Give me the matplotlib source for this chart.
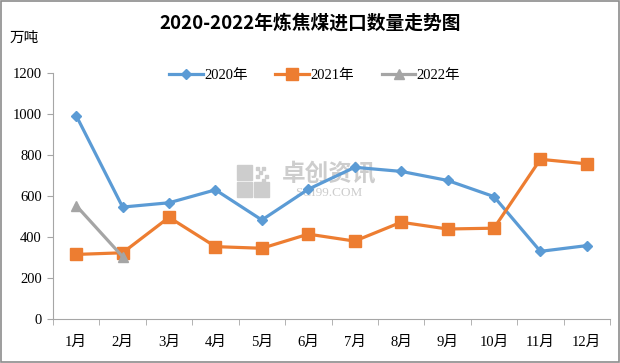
import matplotlib.pyplot as plt
import numpy as np

plt.rcParams['font.family'] = ['Liberation Serif', 'Noto Sans CJK SC']

months = ["1月", "2月", "3月", "4月", "5月", "6月", "7月", "8月", "9月", "10月", "11月", "12月"]
y2020 = [992, 546, 567, 630, 483, 633, 740, 720, 676, 597, 330, 358]
y2021 = [315, 323, 496, 353, 345, 414, 380, 472, 439, 443, 779, 757]
y2022 = [553, 304]

fig = plt.figure(figsize=(6.2, 3.63), dpi=100)
ax = fig.add_axes([53/620, 1 - 319/363, 557/620, 246/363])
ax.patch.set_alpha(0)

x = np.arange(len(months))
ax.plot(x, y2020, color="#5B9BD5", lw=2.3, marker="D", ms=5.5, label="2020年", zorder=3)
ax.plot(x, y2021, color="#ED7D31", lw=2.3, marker="s", ms=8, label="2021年", zorder=3)
ax.plot(x[:len(y2022)], y2022, color="#A5A5A5", lw=2.3, marker="^", ms=7, label="2022年", zorder=4)

ax.set_xlim(-0.5, 11.5)
ax.set_ylim(0, 1200)
ax.set_yticks(range(0, 1201, 200))
ax.set_xticks(x)
ax.set_xticklabels(months)
ax.set_xticks(np.arange(-0.5, 12, 1), minor=True)
ax.tick_params(axis="x", which="major", length=0, pad=12, labelsize=10.5)
ax.tick_params(axis="x", which="minor", length=4, color="#A6A6A6")
ax.tick_params(axis="y", length=4, color="#A6A6A6", labelsize=10.5, pad=4)
for s in ["top", "right"]:
    ax.spines[s].set_visible(False)
for s in ["left", "bottom"]:
    ax.spines[s].set_color("#A6A6A6")

ax.legend(loc="center", bbox_to_anchor=(0.47, 0.99), ncol=3, frameon=False,
          fontsize=10.5, handlelength=2.3, columnspacing=1.9, handletextpad=0.1)

# watermark (logo + text), drawn behind the axes
wm = "#CDCDCD"
for (px, py) in [(237, 182), (254, 182), (237, 165)]:
    fig.patches.append(plt.Rectangle((px/620, 1 - (py + 15)/363), 15/620, 15/363,
                                     transform=fig.transFigure, color=wm, zorder=-2))
for (px, py) in [(256, 167), (262, 167), (259, 171), (256, 175), (265, 175), (262, 179)]:
    fig.patches.append(plt.Rectangle((px/620, 1 - (py + 3)/363), 3/620, 3/363,
                                     transform=fig.transFigure, color=wm, zorder=-2))
fig.text(329/620, 1 - 174/363, "卓创资讯", fontsize=17, color=wm, fontweight="bold",
         family="Noto Sans CJK SC", ha="center", va="center", zorder=-2)
fig.text(329/620, 1 - 193/363, "SCI99.COM", fontsize=9.5, color=wm,
         family="Liberation Serif", ha="center", va="center", zorder=-2)

fig.text(0.5, 1 - 23/363, "2020-2022年炼焦煤进口数量走势图", fontsize=13.5, fontweight="bold",
         family=["Noto Sans CJK SC"], ha="center", va="center")
fig.text(10/620, 1 - 38/363, "万吨", fontsize=10.5, family=["Noto Sans CJK SC"],
         ha="left", va="center")

fig.patches.append(plt.Rectangle((0.002, 0.003), 0.996, 0.994, transform=fig.transFigure,
                                 fill=False, edgecolor="#8C8C8C", lw=1.2))

fig.savefig("out.png", dpi=100)
